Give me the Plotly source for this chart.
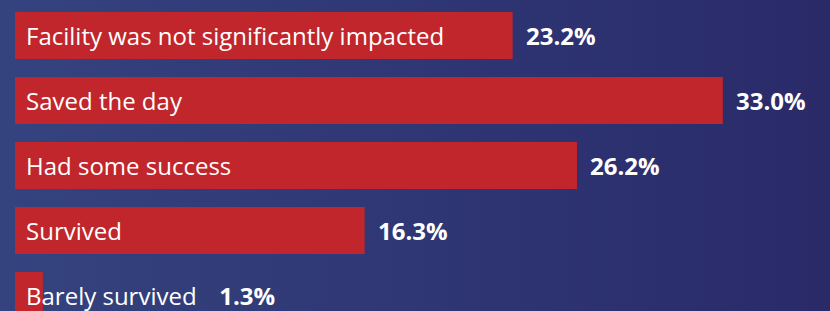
import plotly.graph_objects as go

categories = ["Facility was not significantly impacted", "Saved the day",
              "Had some success", "Survived", "Barely survived"]
values = [23.2, 33.0, 26.2, 16.3, 1.3]
value_labels = ["23.2%", "33.0%", "26.2%", "16.3%", "1.3%"]

BAR = "#C0262B"
BG_LEFT = "#34437F"
BG_RIGHT = "#2A2A69"
FONT = "Open Sans"

W, H = 830, 311
px_per_unit = 21.45
left_px = 15
x_range = [-left_px / px_per_unit, (W - left_px) / px_per_unit]
pitch = 65
rtop = -35.5 / pitch
rbot = rtop + H / pitch

fig = go.Figure()

# background gradient on the base axes
fig.add_trace(go.Scatter(
    x=[0, 1, 1, 0, 0], y=[0, 0, 1, 1, 0], mode="lines",
    line=dict(width=0), fill="toself",
    fillgradient=dict(type="horizontal",
                      colorscale=[[0, BG_LEFT], [1, BG_RIGHT]]),
    hoverinfo="skip", showlegend=False, xaxis="x", yaxis="y"))

ypos = list(range(len(categories)))
fig.add_trace(go.Bar(
    x=values, y=ypos, orientation="h", marker=dict(color=BAR, line=dict(width=0)),
    width=47 / pitch, showlegend=False, hoverinfo="skip",
    xaxis="x2", yaxis="y2"))

annotations = []
for i, (cat, v, lab) in enumerate(zip(categories, values, value_labels)):
    if v < 5:
        annotations.append(dict(
            x=0, y=i, xref="x2", yref="y2", xanchor="left", yanchor="middle",
            xshift=9, showarrow=False,
            text=f"{cat}&nbsp;&nbsp;&nbsp;&#8201;<b>{lab}</b>",
            font=dict(family=FONT, size=24, color="white")))
    else:
        annotations.append(dict(
            x=0, y=i, xref="x2", yref="y2", xanchor="left", yanchor="middle",
            xshift=9, showarrow=False, text=cat,
            font=dict(family=FONT, size=24, color="white")))
        annotations.append(dict(
            x=v, y=i, xref="x2", yref="y2", xanchor="left", yanchor="middle",
            xshift=11, showarrow=False, text=f"<b>{lab}</b>",
            font=dict(family=FONT, size=24, color="white")))

axis_off = dict(visible=False, showgrid=False, zeroline=False, fixedrange=True)
fig.update_layout(
    width=W, height=H,
    margin=dict(l=0, r=0, t=0, b=0),
    paper_bgcolor=BG_RIGHT, plot_bgcolor="rgba(0,0,0,0)",
    xaxis=dict(range=[0, 1], domain=[0, 1], **axis_off),
    yaxis=dict(range=[0, 1], domain=[0, 1], **axis_off),
    xaxis2=dict(range=x_range, overlaying="x", **axis_off),
    yaxis2=dict(range=[rbot, rtop], overlaying="y", **axis_off),
    annotations=annotations,
    showlegend=False,
)

fig.write_html("out.html", config={"displayModeBar": False},
               post_script="document.body.style.margin='0';document.body.style.overflow='hidden';")
